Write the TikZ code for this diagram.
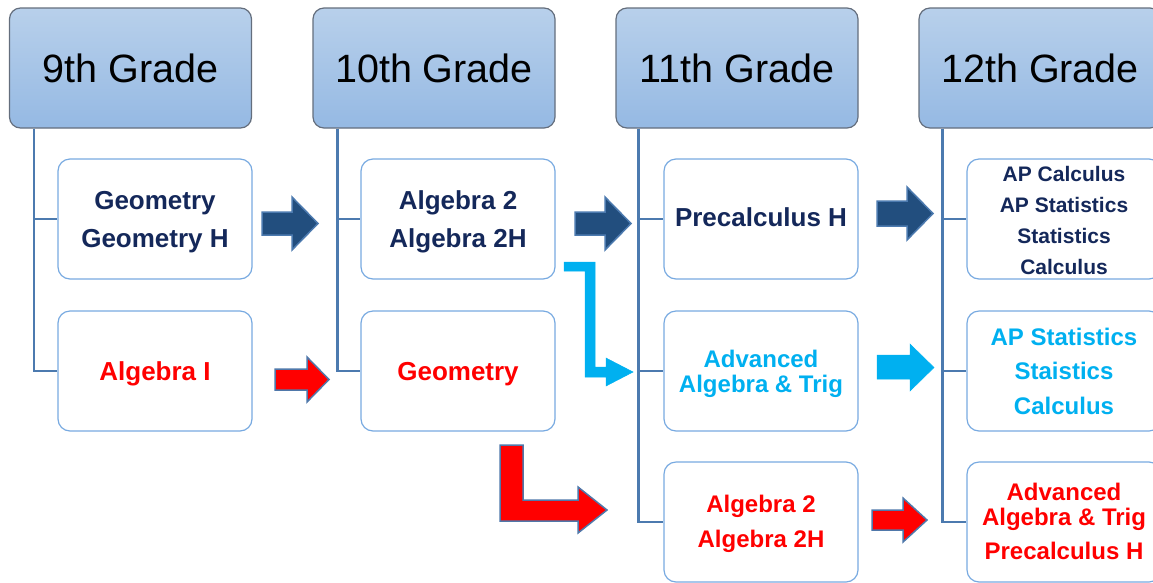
\documentclass[tikz,border=0pt]{standalone}
\usepackage{fontspec}
\setmainfont{Liberation Sans}
\usetikzlibrary{calc}
\definecolor{navytxt}{RGB}{20,40,90}
\definecolor{cyantxt}{RGB}{0,176,240}
\definecolor{redtxt}{RGB}{255,0,0}
\definecolor{hdrtop}{RGB}{184,208,235}
\definecolor{hdrbot}{RGB}{149,185,227}
\definecolor{hdrborder}{RGB}{100,110,125}
\definecolor{boxborder}{RGB}{120,170,225}
\definecolor{conncol}{RGB}{76,122,175}
\definecolor{darkfill}{RGB}{34,78,126}
\definecolor{darkedge}{RGB}{76,122,175}
\definecolor{arredge}{RGB}{79,120,170}
\begin{document}
\begin{tikzpicture}[x=1pt,y=-1pt,
  header/.style={draw=hdrborder, line width=1.2pt, rounded corners=11pt,
    top color=hdrtop, bottom color=hdrbot, minimum width=242pt,
    minimum height=120pt, inner sep=0pt, font=\fontsize{39.5}{47}\selectfont},
  box/.style={draw=boxborder, line width=1.2pt, rounded corners=12pt, fill=white,
    minimum width=194pt, minimum height=120pt, inner sep=0pt},
  txt/.style={inner sep=0pt, align=center, font=\bfseries\fontsize{26}{38}\selectfont},
  conn/.style={draw=conncol, line width=2.5pt},
  darr/.style={fill=darkfill, draw=darkedge, line width=1.5pt, line join=miter},
  rarr/.style={fill=redtxt, draw=arredge, line width=1.5pt, line join=miter},
  carr/.style={fill=cyantxt, draw=cyantxt, line width=0.5pt, line join=miter}]
\useasboundingbox (0,0) rectangle (1153,582);
\clip (0,0) rectangle (1153,582);

% headers
\node[header] (h9) at (130.5,68) {9th Grade};
\node[header] (h10) at (434,68) {10th Grade};
\node[header] (h11) at (737,68) {11th Grade};
\node[header] (h12) at (1040,68) {12th Grade};

% boxes
\node[box] (g9a) at (155,219) {};
\node[box] (g9b) at (155,371) {};
\node[box] (g10a) at (458,219) {};
\node[box] (g10b) at (458,371) {};
\node[box] (g11a) at (761,219) {};
\node[box] (g11b) at (761,371) {};
\node[box] (g11c) at (761,522) {};
\node[box] (g12a) at (1064,219) {};
\node[box] (g12b) at (1064,371) {};
\node[box] (g12c) at (1064,522) {};

% box texts
\node[txt, text=navytxt] (t9a) at ($(g9a.center)+(0,3)$) {Geometry\\Geometry H};
\node[txt, text=redtxt] (t9b) at ($(g9b.center)+(0,3)$) {Algebra I};
\node[txt, text=navytxt] (t10a) at ($(g10a.center)+(0,3)$) {Algebra 2\\Algebra 2H};
\node[txt, text=redtxt] (t10b) at ($(g10b.center)+(0,3)$) {Geometry};
\node[txt, text=navytxt] (t11a) at ($(g11a.center)+(0,-2)$) {Precalculus H};
\node[txt, text=cyantxt, font=\bfseries\fontsize{24}{25}\selectfont] (t11b) at ($(g11b.center)+(0,3)$) {Advanced\\Algebra \& Trig};
\node[txt, text=redtxt, font=\bfseries\fontsize{24}{35}\selectfont] (t11c) at ($(g11c.center)+(0,2)$) {Algebra 2\\Algebra 2H};
\node[txt, text=navytxt, font=\bfseries\fontsize{21}{31}\selectfont] (t12a) at ($(g12a.center)+(0,1)$) {AP Calculus\\AP Statistics\\Statistics\\Calculus};
\node[txt, text=cyantxt, font=\bfseries\fontsize{24}{34.5}\selectfont] (t12b) at (g12b.center) {AP Statistics\\Staistics\\Calculus};
\node[txt, text=redtxt, font=\bfseries\fontsize{24}{25}\selectfont] (t12c) at ($(g12c.center)+(0,-1)$) {Advanced\\Algebra \& Trig\\[9pt]Precalculus H};

% connectors
\coordinate (v9) at ($(h9.south west)+(25,0)$);
\coordinate (v10) at ($(h10.south west)+(25,0)$);
\coordinate (v11) at ($(h11.south west)+(23,0)$);
\coordinate (v12) at ($(h12.south west)+(24,0)$);
\draw[conn] (v9) |- (g9a.west);
\draw[conn] (v9) |- (g9b.west);
\draw[conn] (v10) |- (g10a.west);
\draw[conn] (v10) |- (g10b.west);
\draw[conn] (v11) |- (g11a.west);
\draw[conn] (v11) |- (g11b.west);
\draw[conn] (v11) |- (g11c.west);
\draw[conn] (v12) |- (g12a.west);
\draw[conn] (v12) |- (g12b.west);
\draw[conn] (v12) |- (g12c.west);

% dark blue arrows
\draw[darr] (262,212) -- (292,212) -- (292,197) -- (318,223.5) -- (292,250) -- (292,235) -- (262,235) -- cycle;
\draw[darr] (575,212) -- (605,212) -- (605,197) -- (631,223.5) -- (605,250) -- (605,235) -- (575,235) -- cycle;
\draw[darr] (877,201) -- (907,201) -- (907,187) -- (933,213.5) -- (907,240) -- (907,226) -- (877,226) -- cycle;

% red arrows
\draw[rarr] (275,369) -- (307,369) -- (307,357) -- (329,379.5) -- (307,402) -- (307,390) -- (275,390) -- cycle;
\draw[rarr] (500,445) -- (523,445) -- (523,500) -- (578,500) -- (578,487) -- (607,510) -- (578,533) -- (578,521) -- (500,521) -- cycle;
\draw[rarr] (872,510) -- (903,510) -- (903,498) -- (927,520) -- (903,542) -- (903,530) -- (872,530) -- cycle;

% cyan arrows
\draw[carr] (564,262) -- (595,262) -- (595,367) -- (606,367) -- (606,358) -- (633,372) -- (606,386) -- (606,377) -- (585,377) -- (585,271) -- (564,271) -- cycle;
\draw[carr] (877,355) -- (910,355) -- (910,344) -- (934,367.5) -- (910,391) -- (910,379) -- (877,379) -- cycle;
\end{tikzpicture}
\end{document}
